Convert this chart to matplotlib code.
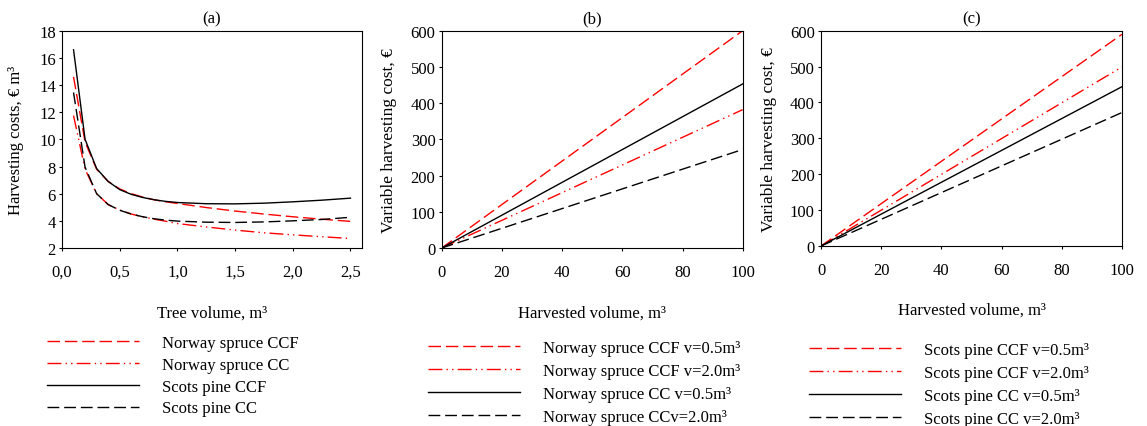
import numpy as np
import matplotlib
matplotlib.use('Agg')
import matplotlib.pyplot as plt
from matplotlib.ticker import FuncFormatter

plt.rcParams['font.family'] = ['Liberation Serif', 'DejaVu Serif']
plt.rcParams['font.size'] = 12

# (a) harvesting cost per m3 against tree volume
tree_vol = [0.1, 0.2, 0.3, 0.4, 0.5, 0.6, 0.7, 0.8, 0.9, 1.0, 1.25, 1.5, 1.75, 2.0, 2.25, 2.5]
ns_ccf = [14.6, 9.8, 7.8, 6.9, 6.35, 6.0, 5.75, 5.55, 5.4, 5.28, 4.98, 4.72, 4.5, 4.3, 4.12, 3.96]
ns_cc = [11.75, 7.8, 6.0, 5.2, 4.8, 4.5, 4.3, 4.12, 3.97, 3.8, 3.55, 3.32, 3.12, 2.97, 2.83, 2.7]
sp_ccf = [16.6, 10.0, 7.85, 6.9, 6.3, 5.95, 5.72, 5.55, 5.43, 5.35, 5.26, 5.25, 5.3, 5.4, 5.52, 5.67]
sp_cc = [13.45, 7.95, 6.0, 5.2, 4.78, 4.5, 4.3, 4.15, 4.05, 3.98, 3.9, 3.88, 3.92, 4.0, 4.1, 4.26]

# (b), (c) variable harvesting cost against harvested volume
harv_vol = [0, 100]
ns_ccf_05 = [0, 600]
ns_ccf_20 = [0, 382]
ns_cc_05 = [0, 453]
ns_cc_20 = [0, 272]
sp_ccf_05 = [0, 590]
sp_ccf_20 = [0, 499]
sp_cc_05 = [0, 444]
sp_cc_20 = [0, 372]

labels_a = ['Norway spruce CCF', 'Norway spruce CC', 'Scots pine CCF', 'Scots pine CC']
labels_b = ['Norway spruce CCF v=0.5m³', 'Norway spruce CCF v=2.0m³',
            'Norway spruce CC v=0.5m³', 'Norway spruce CCv=2.0m³']
labels_c = ['Scots pine CCF v=0.5m³', 'Scots pine CCF v=2.0m³',
            'Scots pine CC v=0.5m³', 'Scots pine CC v=2.0m³']

# line styles: red dashed, red dash-dot-dot, black solid, black dashed
styles = [
    dict(color='#ff0000', lw=1.0, dashes=(9, 3.5)),
    dict(color='#ff0000', lw=1.0, dashes=(10, 3, 1, 3, 1, 3)),
    dict(color='black', lw=1.0, ls='-'),
    dict(color='black', lw=1.0, dashes=(8.5, 3.5)),
]

W, H = 1147, 427
fig = plt.figure(figsize=(W / 100, H / 100), dpi=100)


def box(l, t, r, b):
    return [l / W, 1 - b / H, (r - l) / W, (b - t) / H]


ax_a = fig.add_axes(box(62, 31.7, 362, 249))
ax_b = fig.add_axes(box(441.7, 31.7, 742.7, 249))
ax_c = fig.add_axes(box(821, 31.7, 1122, 247))

lines_a = []
for y, st in zip([ns_ccf, ns_cc, sp_ccf, sp_cc], styles):
    lines_a += ax_a.plot(tree_vol, y, **st)
lines_b = []
for y, st in zip([ns_ccf_05, ns_ccf_20, ns_cc_05, ns_cc_20], styles):
    lines_b += ax_b.plot(harv_vol, y, **st)
lines_c = []
for y, st in zip([sp_ccf_05, sp_ccf_20, sp_cc_05, sp_cc_20], styles):
    lines_c += ax_c.plot(harv_vol, y, **st)

ax_a.set_xlim(0, 2.6)
ax_a.set_ylim(2, 18)
ax_a.set_xticks(np.arange(0, 2.51, 0.5))
ax_a.set_yticks(range(2, 19, 2))
ax_a.xaxis.set_major_formatter(FuncFormatter(lambda v, p: f'{v:.1f}'.replace('.', ',')))
ax_a.set_ylabel('Harvesting costs, € m³', fontsize=12)
ax_a.set_xlabel('Tree volume, m³')
ax_a.set_title('(a)', fontsize=12, pad=6)

for ax, t in [(ax_b, '(b)'), (ax_c, '(c)')]:
    ax.set_xlim(0, 100)
    ax.set_ylim(0, 600)
    ax.set_xticks(range(0, 101, 20))
    ax.set_yticks(range(0, 601, 100))
    ax.set_ylabel('Variable harvesting cost, €', fontsize=12.5)
    ax.set_xlabel('Harvested volume, m³')
    ax.set_title(t, fontsize=12, pad=6)

for ax in (ax_a, ax_b, ax_c):
    ax.tick_params(axis='both', labelsize=12)
    ax.tick_params(axis='y', direction='out', length=2.5, width=0.8, pad=2)
    ax.tick_params(axis='x', direction='out', length=2.5, width=0.8, pad=9)
    for s in ax.spines.values():
        s.set_linewidth(0.8)
    ax.xaxis.set_label_coords(0.5, -0.26)

ax_a.yaxis.set_label_coords(-0.125, 0.5)
ax_b.yaxis.set_label_coords(-0.148, 0.5)
ax_c.yaxis.set_label_coords(-0.146, 0.5)

leg_kw = dict(loc='upper left', frameon=False, borderpad=0, borderaxespad=0,
              handlelength=5.5, handletextpad=1.4, fontsize=12)
fig.legend(lines_a, labels_a, bbox_to_anchor=(47 / W, 1 - 336 / H), labelspacing=0.35, **leg_kw)
fig.legend(lines_b, labels_b, bbox_to_anchor=(428 / W, 1 - 341 / H), labelspacing=0.42, **leg_kw)
fig.legend(lines_c, labels_c, bbox_to_anchor=(809 / W, 1 - 343 / H), labelspacing=0.42, **leg_kw)

fig.savefig('out.png', dpi=100)
